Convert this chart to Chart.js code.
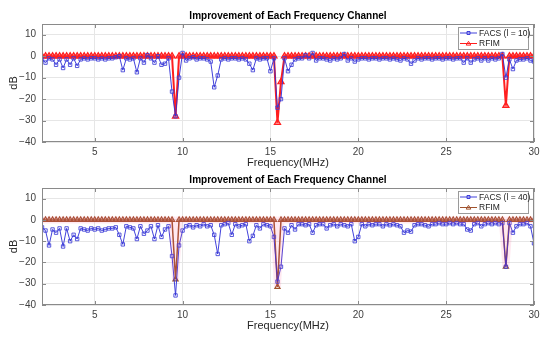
<!DOCTYPE html>
<html>
<head>
<meta charset="utf-8">
<script src="https://cdn.jsdelivr.net/npm/chart.js@4"></script>
<style>
  html,body{margin:0;padding:0;background:#fff;}
  canvas{display:block;}
</style>
</head>
<body>
<canvas id="top" width="550" height="170"></canvas>
<canvas id="bottom" width="550" height="169"></canvas>
<script>
// frequency channels (MHz)
const freq = [
  2.0,2.2,2.4,2.6,2.8,3.0,3.2,3.4,3.6,3.8,
  4.0,4.2,4.4,4.6,4.8,5.0,5.2,5.4,5.6,5.8,
  6.0,6.2,6.4,6.6,6.8,7.0,7.2,7.4,7.6,7.8,
  8.0,8.2,8.4,8.6,8.8,9.0,9.2,9.4,9.6,9.8,
  10.0,10.2,10.4,10.6,10.8,11.0,11.2,11.4,11.6,11.8,
  12.0,12.2,12.4,12.6,12.8,13.0,13.2,13.4,13.6,13.8,
  14.0,14.2,14.4,14.6,14.8,15.0,15.2,15.4,15.6,15.8,
  16.0,16.2,16.4,16.6,16.8,17.0,17.2,17.4,17.6,17.8,
  18.0,18.2,18.4,18.6,18.8,19.0,19.2,19.4,19.6,19.8,
  20.0,20.2,20.4,20.6,20.8,21.0,21.2,21.4,21.6,21.8,
  22.0,22.2,22.4,22.6,22.8,23.0,23.2,23.4,23.6,23.8,
  24.0,24.2,24.4,24.6,24.8,25.0,25.2,25.4,25.6,25.8,
  26.0,26.2,26.4,26.6,26.8,27.0,27.2,27.4,27.6,27.8,
  28.0,28.2,28.4,28.6,28.8,29.0,29.2,29.4,29.6,29.8,
  30.0
];

// top panel: FACS (l = 10) and RFIM, dB
const facs10 = [
  -1.5,-3,-1,-1.5,-4,-1.5,-5.5,-1.5,-4,-1,
  -4.5,-1.5,-1,-1.5,-1,-1,-1.5,-1,-1.5,-1,
  -1,-0.5,0,-6.5,-1,-1.5,-1,-7.5,-1,-3,
  0.5,-1,-3,0,-4,-3.5,-1,-16.5,-28,-10,
  1.5,-2,-1,-0.5,-1.5,-1,-1,-1.5,-2.5,-14.5,
  -9,-1.5,-1,-1.5,-1,-1,-1.5,-1,-1.5,-3.5,
  -6.5,-1,-1.5,-1,-1,-7,-1,-24,-20,-1,
  -7,-4,-1.5,-1,-1,0.5,-1,1.5,-2,-1,
  -1,-1.5,-2,-1,-1.5,-1,1,-2,-1,-2.5,
  -1.5,-1,-1,-1.5,-1,-1,-1.5,-1,-1,-1.5,
  -1,-1.5,-2,-1,-1.5,-3.5,-2,-1,-1.5,-1,
  -1,-1.5,-1,-1,-1.5,-1,-1,-1.5,-1,-1,
  -3,-1,-3,-1.5,-1,-2,-1,-2,-1,-1.5,
  -1,1,-10,-1.5,-6,-2,-1.5,-1.5,-1,-2,
  -2.5
];
const rfimTop = [
  0,0,0,0,0,0,0,0,0,0,
  0,0,0,0,0,0,0,0,0,0,
  0,0,0,0,0,0,0,0,0,0,
  0,0,0,0,0,0,0,0,-28,0,
  0,0,0,0,0,0,0,0,0,0,
  0,0,0,0,0,0,0,0,0,0,
  0,0,0,0,0,0,0,-31,-12,0,
  0,0,0,0,0,0,0,0,0,0,
  0,0,0,0,0,0,0,0,0,0,
  0,0,0,0,0,0,0,0,0,0,
  0,0,0,0,0,0,0,0,0,0,
  0,0,0,0,0,0,0,0,0,0,
  0,0,0,0,0,0,0,0,0,0,
  0,0,-23,0,0,0,0,0,0,0,
  0
];

// bottom panel: FACS (l = 40) and RFIM, dB
const facs40 = [
  -3.5,-5,-12,-4.5,-6,-4,-12.5,-4,-10,-7,
  -9,-4,-4.5,-5,-4,-4.5,-4,-5,-4.5,-4,
  -4,-3.5,-7,-11.5,-3,-3.5,-4,-9,-3,-6.5,
  -5,-3,-9,-2.5,-8,-4.5,-3,-17,-35.5,-12,
  -5,-3,-2.5,-3.5,-2.5,-3,-2,-3,-2.5,-7,
  -16,-2.5,-2,-1.5,-7,-2,-3,-2.5,-2,-10,
  -7.5,-2.5,-4,-2,-2.5,-3,-8,-29,-22,-4,
  -6,-2.5,-4.5,-2,-2,-2.5,-2,-6,-2.5,-2,
  -2,-4,-2.5,-2,-3,-2,-2.5,-3,-2,-10,
  -8,-2,-3,-2,-2.5,-2,-2,-3,-2,-2.5,
  -2,-2.5,-3,-6,-5,-5.5,-2.5,-2,-2,-2.5,
  -3,-2,-2,-1.5,-2,-2,-1.5,-2,-1.5,-2,
  -2,-4.5,-5,-2,-1.5,-3,-2,-1.5,-2,-1.5,
  -2,-1.5,-22,-1.5,-6,-3,-2,-2,-1.5,-3,
  -11
];
const rfimBottom = [
  0,0,0,0,0,0,0,0,0,0,
  0,0,0,0,0,0,0,0,0,0,
  0,0,0,0,0,0,0,0,0,0,
  0,0,0,0,0,0,0,0,-28,0,
  0,0,0,0,0,0,0,0,0,0,
  0,0,0,0,0,0,0,0,0,0,
  0,0,0,0,0,0,0,-31.5,0,0,
  0,0,0,0,0,0,0,0,0,0,
  0,0,0,0,0,0,0,0,0,0,
  0,0,0,0,0,0,0,0,0,0,
  0,0,0,0,0,0,0,0,0,0,
  0,0,0,0,0,0,0,0,0,0,
  0,0,0,0,0,0,0,0,0,0,
  0,0,-22,0,0,0,0,0,0,0,
  0
];

const xTicks = [5,10,15,20,25,30];
const yTicks = [-40,-30,-20,-10,0,10];
const chartTitle = "Improvement of Each Frequency Channel";

const FONT = '"Liberation Sans", Arial, sans-serif';
const pts = vals => freq.map((f,i)=>({x:f,y:vals[i]}));

// MATLAB-ish box, inward ticks, title and legend inside the axes
const frame = {
  id:"frame",
  afterDraw(c, args, o){
    const {ctx, chartArea:a, scales:{x,y}} = c;
    ctx.save();
    ctx.strokeStyle="#8a8a8a"; ctx.lineWidth=1;
    ctx.beginPath();
    xTicks.forEach(v=>{
      const p=Math.round(x.getPixelForValue(v))+0.5;
      ctx.moveTo(p,a.bottom); ctx.lineTo(p,a.bottom-4);
      ctx.moveTo(p,a.top); ctx.lineTo(p,a.top+4);
    });
    yTicks.forEach(v=>{
      const p=Math.round(y.getPixelForValue(v))+0.5;
      ctx.moveTo(a.left,p); ctx.lineTo(a.left+4,p);
      ctx.moveTo(a.right,p); ctx.lineTo(a.right-4,p);
    });
    ctx.stroke();
    ctx.strokeRect(a.left+0.5,a.top+0.5,a.width-1,a.height-1);

    // title
    ctx.fillStyle="#000";
    ctx.font="bold 10px "+FONT;
    ctx.textAlign="center"; ctx.textBaseline="middle";
    ctx.fillText(chartTitle,(a.left+a.right)/2,a.top-7.5);

    // legend
    const bx=a.right-76, by=a.top+3, bw=70, bh=22;
    ctx.fillStyle="#fff"; ctx.fillRect(bx,by,bw,bh);
    ctx.strokeStyle="#9a9a9a"; ctx.strokeRect(bx+0.5,by+0.5,bw,bh);
    o.items.forEach((it,k)=>{
      const ds=c.data.datasets[it];
      const ly=by+6+k*10.5;
      ctx.strokeStyle=ds.borderColor; ctx.lineWidth=1;
      ctx.beginPath(); ctx.moveTo(bx+2,ly); ctx.lineTo(bx+19,ly); ctx.stroke();
      ctx.beginPath();
      if(ds.pointStyle==="rect"){ ctx.rect(bx+9,ly-1.5,3,3); }
      else { ctx.moveTo(bx+10.5,ly-2.2); ctx.lineTo(bx+12.8,ly+1.6); ctx.lineTo(bx+8.2,ly+1.6); ctx.closePath(); }
      ctx.stroke();
      ctx.fillStyle="#222"; ctx.font="8.5px "+FONT;
      ctx.textAlign="left"; ctx.textBaseline="middle";
      ctx.fillText(ds.label,bx+21,ly+0.5);
    });
    ctx.restore();
  }
};

function makeChart(id, facsLabel, facsVals, rfimVals, rfimColor, glow, padTop, padBottom){
  const datasets=[];
  if(glow){
    datasets.push({data:pts(rfimVals),borderColor:"rgba(255,80,140,0.13)",borderWidth:7,
      pointRadius:0,fill:false,tension:0});
  }
  datasets.push({label:facsLabel,data:pts(facsVals),borderColor:"rgba(45,45,215,0.9)",borderWidth:1,
    pointStyle:"rect",pointRadius:2.4,pointBorderWidth:1,pointBackgroundColor:"rgba(0,0,0,0)",
    pointBorderColor:"rgba(60,60,215,0.85)",fill:false,tension:0});
  datasets.push({label:"RFIM",data:pts(rfimVals),borderColor:rfimColor,borderWidth:glow?1.5:2,
    pointStyle:"triangle",pointRadius:glow?3:3.6,pointBorderWidth:1.2,
    pointBackgroundColor:glow?"rgba(0,0,0,0)":"rgba(255,40,40,0.55)",
    pointBorderColor:rfimColor,fill:false,tension:0});
  const n=datasets.length;
  return new Chart(document.getElementById(id),{
    type:"line",
    data:{datasets},
    options:{
      responsive:false,
      animation:false,
      events:[],
      layout:{padding:{top:padTop,right:16,bottom:padBottom,left:0}},
      plugins:{legend:{display:false},tooltip:{enabled:false},
        frame:{items:[n-2,n-1]}},
      scales:{
        x:{type:"linear",min:2,max:30,
          afterBuildTicks:s=>{s.ticks=xTicks.map(v=>({value:v}));},
          afterFit:s=>{s.height=28;},
          grid:{color:"#e6e6e6",drawTicks:false},
          border:{display:false},
          ticks:{padding:4,color:"#404040",font:{family:FONT,size:10},maxRotation:0},
          title:{display:true,text:"Frequency(MHz)",color:"#262626",
            font:{family:FONT,size:11},padding:{top:0,bottom:0}}
        },
        y:{min:-40,max:15,
          afterBuildTicks:s=>{s.ticks=yTicks.map(v=>({value:v}));},
          afterFit:s=>{s.width=42;},
          grid:{color:"#e6e6e6",drawTicks:false},
          border:{display:false},
          ticks:{padding:6,color:"#404040",font:{family:FONT,size:10},
            callback:v=>String(v).replace("-","\u2212")},
          title:{display:true,text:"dB",color:"#262626",
            font:{family:FONT,size:11},padding:{top:7,bottom:0}}
        }
      }
    },
    plugins:[frame]
  });
}

makeChart("top","FACS (l = 10)",facs10,rfimTop,"#ff1f1f",false,24,0);
makeChart("bottom","FACS (l = 40)",facs40,rfimBottom,"#a0522d",true,18,6);
</script>
</body>
</html>
